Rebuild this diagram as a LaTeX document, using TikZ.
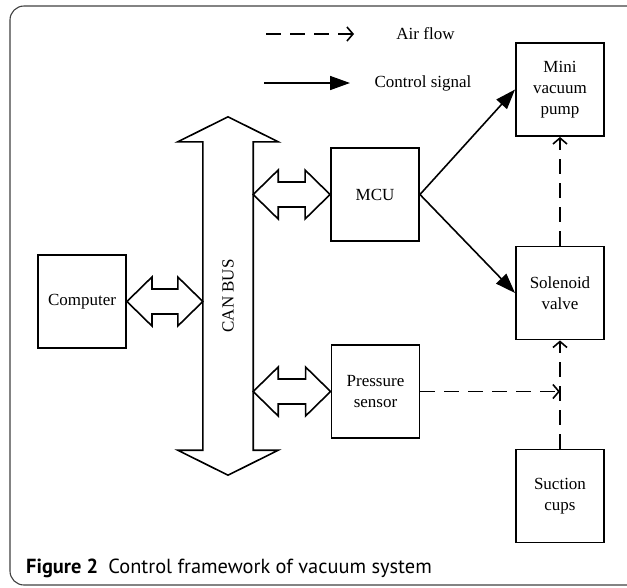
\documentclass[tikz,border=0pt]{standalone}
\usepackage{fontspec}
\setmainfont{Liberation Serif}
\newfontfamily\capfont{PT Sans}
\usetikzlibrary{arrows.meta,calc}
\newcommand\biarrow[2]{\draw[blk] (#1) -- ++(25,-24.5) -- ++(0,12) -- ($(#2)+(-25,-12.5)$) -- ++(0,-12) -- (#2) -- ++(-25,24.5) -- ++(0,-12) -- ($(#1)+(25,12.5)$) -- ++(0,12) -- cycle;}
\begin{document}
\begin{tikzpicture}[x=1pt,y=-1pt,
  box/.style={draw, line width=1.9pt, minimum width=88pt, minimum height=93pt, inner sep=0pt, align=center, font=\fontsize{17}{21}\selectfont},
  lbl/.style={font=\fontsize{17}{21}\selectfont, inner sep=0pt},
  blk/.style={draw, line width=1.6pt, line join=miter, fill=white},
  ctrl/.style={line width=1.6pt, -{Triangle[length=20pt,width=14pt]}},
  air/.style={line width=1.6pt, dash pattern=on 15pt off 9pt, -{Straight Barb[length=6pt,width=14pt,line width=1.6pt]}},
]
\useasboundingbox (0,0) rectangle (627,587);
\draw[gray!50!black, line width=1.1pt, rounded corners=14pt] (10,6) rectangle (660,585);

% legend
\coordinate (a1) at (266,34);
\coordinate (a2) at (354,34);
\draw[air] (a1) -- (a2);
\node[lbl] (airlbl) at (425.5,34) {Air flow};
\coordinate (s1) at (264,83);
\coordinate (s2) at (350,83);
\draw[ctrl] (s1) -- (s2);
\node[lbl] (ctrllbl) at (423,83) {Control signal};

% boxes
\node[box] (pump) at (560,89.5) {Mini\\vacuum\\pump};
\node[box] (mcu) at (375,194.5) {MCU};
\node[box] (sol) at (560,293) {Solenoid\\valve};
\node[box] (comp) at (82,301.5) {Computer};
\node[box] (ps) at (375.5,391.5) {Pressure\\sensor};
\node[box] (suc) at (560,496) {Suction\\cups};

% CAN bus
\node[minimum width=50pt, minimum height=308pt, inner sep=0pt] (can) at (228,296) {};
\draw[blk] (can.north west) -- ++(-25,0) -- ($(can.north)+(0,-25)$) -- ($(can.north east)+(25,0)$) -- (can.north east) -- (can.south east) -- ++(25,0) -- ($(can.south)+(0,25)$) -- ($(can.south west)+(-25,0)$) -- (can.south west) -- cycle;
\node[lbl, rotate=90] (cantext) at (can.center) {CAN BUS};

% bus links
\coordinate (m1) at (can.east |- mcu.west);
\coordinate (c1) at (can.west |- comp.east);
\coordinate (p1) at (can.east |- ps.west);
\biarrow{m1}{mcu.west}
\biarrow{comp.east}{c1}
\biarrow{p1}{ps.west}

% control
\draw[ctrl] (mcu.east) -- (pump.west);
\draw[ctrl] (mcu.east) -- (sol.west);

% air
\coordinate (j1) at (ps.east -| sol.south);
\draw[air] (sol.north) -- (pump.south);
\draw[air] (suc.north) -- (sol.south);
\draw[air] (ps.east) -- (j1);

% caption
\node[anchor=base west, inner sep=0pt, font=\capfont\fontsize{20.4}{24}\selectfont] (cap) at (26,573) {\textbf{Figure 2}\hspace{0.5em}Control framework of vacuum system};
\end{tikzpicture}
\end{document}
